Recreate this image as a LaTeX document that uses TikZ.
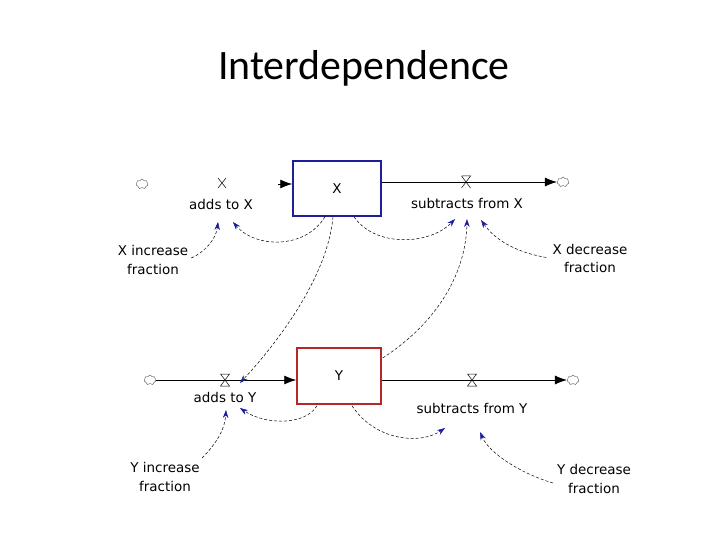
\documentclass[tikz,border=0pt]{standalone}
\usepackage{fontspec}
\setmainfont{DejaVu Sans}
\newfontfamily\titlefont{Carlito}
\usetikzlibrary{arrows.meta,shapes.symbols,calc}
\definecolor{xblue}{RGB}{30,30,150}
\definecolor{yred}{RGB}{180,40,40}
\definecolor{linkblue}{RGB}{25,25,160}
\begin{document}
\begin{tikzpicture}[x=1bp,y=-1bp,
  stock/.style={draw, line width=1.5pt, minimum width=88bp, minimum height=55bp, inner sep=0pt, font=\fontsize{13.5}{16}\selectfont},
  lbl/.style={inner sep=1bp, align=center, font=\fontsize{13.5}{19}\selectfont},
  srccloud/.style={shape=cloud, cloud puffs=7, draw=black!70, line width=0.4pt, minimum width=12bp, minimum height=10bp, inner sep=0pt},
  flow/.style={line width=0.8pt, -{Latex[length=12bp,width=9bp]}},
  link/.style={densely dashed, line width=0.5pt, -{Stealth[length=8bp,width=5.5bp,color=linkblue]}},
  valve/.pic={\draw[line width=0.5pt] (-4.5,-6) -- (4.5,-6) -- (-4.5,6) -- (4.5,6) -- cycle;},
  xvalve/.pic={\draw[line width=0.5pt] (-4,-5) -- (4,5) (-4,5) -- (4,-5);},
  tvalve/.pic={\draw[line width=0.5pt] (-4.5,-6) -- (4.5,-6) -- (-4.5,6) (4.5,6) -- (-4.5,-6);}
]
\useasboundingbox (0,0) rectangle (720,540);
\node[font=\titlefont\fontsize{42}{50}\selectfont, anchor=base] (title) at (364,80) {Interdependence};

% stocks
\node[stock, draw=xblue] (X) at (337,188.5) {X};
\node[stock, draw=yred, minimum width=84bp, minimum height=56bp] (Y) at (339,376) {Y};

% clouds
\node[srccloud] (cx1) at (142,184) {};
\node[srccloud] (cx2) at (563,182) {};
\node[srccloud] (cy1) at (150,380) {};
\node[srccloud] (cy2) at (573,380) {};

% valves
\coordinate (vx1) at (222,183);
\coordinate (vx2) at (466,182);
\coordinate (vy1) at (225,380);
\coordinate (vy2) at (472,380);

% flows
\draw[flow] ($(X.west |- cx1)+(-14,0)$) -- (X.west |- cx1);
\draw[flow] (X.east |- cx2.west) -- (cx2.west);
\draw[flow] (cy1.east) -- (Y.west |- cy1.east);
\draw[flow] (Y.east |- cy2.west) -- (cy2.west);

\pic at (vx1) {xvalve};
\pic at (vx2) {tvalve};
\pic at (vy1) {valve};
\pic at (vy2) {valve};

% labels
\node[lbl] (ax) at (221,204) {adds to X};
\node[lbl] (sx) at (467,203) {subtracts from X};
\node[lbl] (ay) at (225,397) {adds to Y};
\node[lbl] (sy) at (472,408) {subtracts from Y};
\node[lbl] (xinc) at (153,260) {X increase\\fraction};
\node[lbl] (xdec) at (590,258.5) {X decrease\\fraction};
\node[lbl] (yinc) at (165,477) {Y increase\\fraction};
\node[lbl] (ydec) at (594,479) {Y decrease\\fraction};

% links
\draw[link] ($(xinc.east)+(2,-2)$) .. controls +(12,-5) and +(-2,18) .. ($(ax)+(-3,18)$);
\draw[link] ($(X.south)+(-12,0)$) .. controls +(-20,33) and +(22,26) .. ($(ax)+(12,18)$);
\draw[link] ($(X.south)+(17,0)$) .. controls +(21,31) and +(-25,26) .. ($(sx)+(-12,16)$);
\draw[link] ($(X.south)+(-4,0)$) .. controls +(-5,58) and +(40,-43) .. ($(ay)+(15,-14)$);
\draw[link] ($(Y.east)+(1,-18)$) .. controls +(58,-38) and +(-1,51) .. ($(sx)+(0,16)$);
\draw[link] ($(xdec.west)+(-5,-1)$) .. controls +(-30,-5) and +(14,20) .. ($(sx)+(14,17)$);
\draw[link] ($(yinc)+(37,-19)$) .. controls +(13,-13) and +(-1,20) .. ($(ay)+(1,13)$);
\draw[link] ($(Y.south)+(-22,1)$) .. controls +(-12,20) and +(25,17) .. ($(ay)+(15,11)$);
\draw[link] ($(Y.south)+(13,1)$) .. controls +(23,35) and +(-25,17) .. ($(sy)+(-27,20)$);
\draw[link] ($(ydec)+(-41,4)$) .. controls +(-28,-8) and +(10,23) .. ($(sy)+(8,24)$);
\end{tikzpicture}
\end{document}
